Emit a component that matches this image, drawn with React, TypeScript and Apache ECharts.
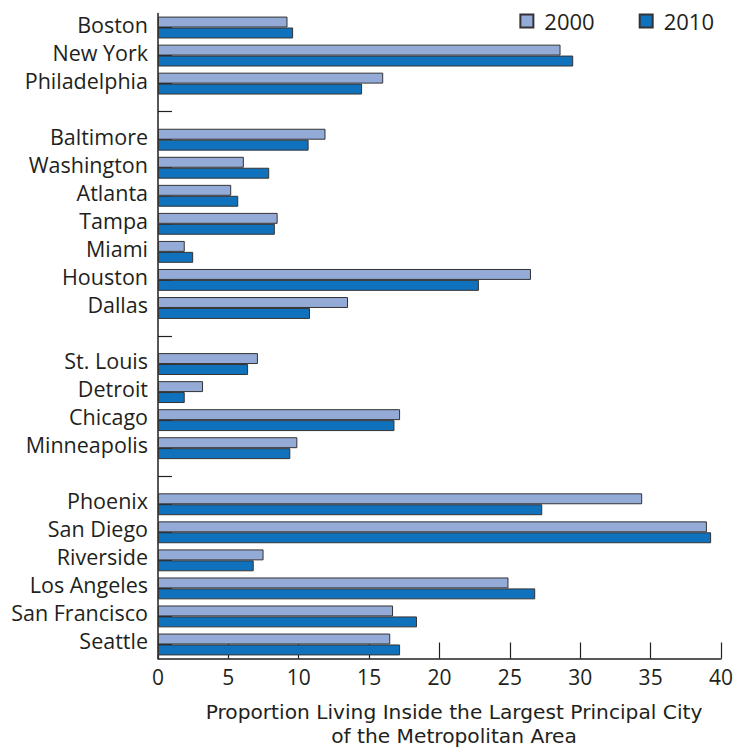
import React, { useEffect, useRef } from "react";
import * as echarts from "echarts";

const categories = [
  "Boston", "New York", "Philadelphia", "",
  "Baltimore", "Washington", "Atlanta", "Tampa", "Miami", "Houston", "Dallas", " ",
  "St. Louis", "Detroit", "Chicago", "Minneapolis", "  ",
  "Phoenix", "San Diego", "Riverside", "Los Angeles", "San Francisco", "Seattle",
];
const values2000 = [
  9.2, 28.6, 16.0, null,
  11.9, 6.1, 5.2, 8.5, 1.9, 26.5, 13.5, null,
  7.1, 3.2, 17.2, 9.9, null,
  34.4, 39.0, 7.5, 24.9, 16.7, 16.5,
];
const values2010 = [
  9.6, 29.5, 14.5, null,
  10.7, 7.9, 5.7, 8.3, 2.5, 22.8, 10.8, null,
  6.4, 1.9, 16.8, 9.4, null,
  27.3, 39.3, 6.8, 26.8, 18.4, 17.2,
];
const seriesNames = ["2000", "2010"];
const xTicks = { min: 0, max: 40, interval: 5 };
const axisTitle = ["Proportion Living Inside the Largest Principal City", "of the Metropolitan Area"];

const FONT = "'Open Sans', 'Noto Sans', sans-serif";
const TITLE_FONT = "'DejaVu Sans', 'Liberation Sans', sans-serif";
const TEXT = "#231f20";

export default function App() {
  const ref = useRef<HTMLDivElement>(null);
  useEffect(() => {
    if (!ref.current) return;
    const chart = echarts.init(ref.current, null, { renderer: "svg" });
    chart.setOption({
      animation: false,
      textStyle: { fontFamily: FONT, color: TEXT },
      legend: {
        right: 17,
        top: 5,
        icon: "rect",
        itemWidth: 13,
        itemHeight: 13,
        itemGap: 44,
        textStyle: { fontSize: 22, color: TEXT, fontFamily: FONT, padding: [0, 0, 0, 6] },
        data: seriesNames,
      },
      grid: { left: 158, right: 12, top: 13.5, bottom: 89.5, containLabel: false },
      xAxis: {
        type: "value",
        min: xTicks.min,
        max: xTicks.max,
        interval: xTicks.interval,
        axisLine: { show: true, lineStyle: { color: TEXT, width: 1.5 } },
        axisTick: { show: true, inside: true, length: 16, lineStyle: { color: TEXT, width: 1.2 } },
        axisLabel: { fontSize: 21, color: TEXT, fontFamily: FONT, margin: 8 },
        splitLine: { show: false },
      },
      yAxis: {
        type: "category",
        data: categories,
        inverse: true,
        axisLine: { show: true, lineStyle: { color: TEXT, width: 1.5 } },
        axisTick: { show: true, inside: true, alignWithLabel: true, length: 14, lineStyle: { color: TEXT, width: 1.2 } },
        axisLabel: {
          color: TEXT,
          margin: 10,
          interval: 0,
          formatter: (v: string) => `{c|${v}}`,
          rich: {
            c: { fontSize: 21.5, color: TEXT, fontFamily: FONT, padding: [0, 0, 7, 0] },
          },
        },
      },
      graphic: axisTitle.map((t, i) => ({
        type: "text",
        x: 454,
        y: 711.5 + i * 24.2,
        style: {
          text: t,
          fontSize: 20.2,
          lineHeight: 22,
          fontFamily: TITLE_FONT,
          fill: TEXT,
          align: "center",
          verticalAlign: "middle",
          textAlign: "center",
          textVerticalAlign: "middle",
        },
      })),
      series: [
        {
          name: seriesNames[0],
          type: "bar",
          data: values2000,
          barGap: "0%",
          barCategoryGap: "22%",
          itemStyle: { color: "#94abd7", borderColor: "#333", borderWidth: 1 },
        },
        {
          name: seriesNames[1],
          type: "bar",
          data: values2010,
          barGap: "0%",
          barCategoryGap: "22%",
          itemStyle: { color: "#1072bc", borderColor: "#333", borderWidth: 1 },
        },
      ],
    });
    return () => chart.dispose();
  }, []);
  return <div ref={ref} style={{ position: "absolute", left: 0, top: 0, width: 736, height: 748 }} />;
}
